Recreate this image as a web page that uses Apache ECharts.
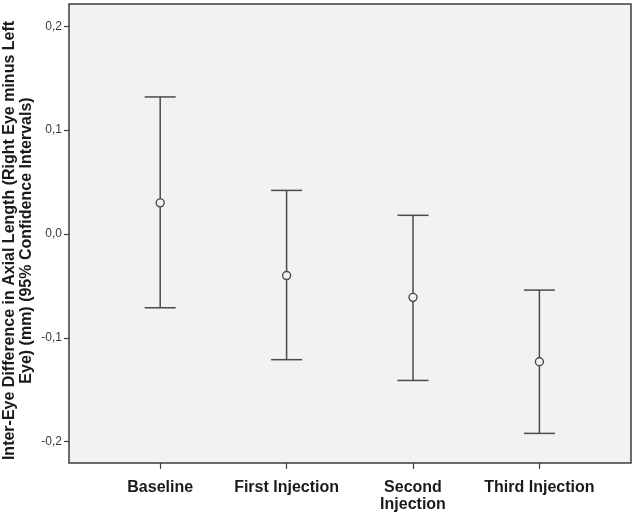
<!DOCTYPE html>
<html>
<head>
<meta charset="utf-8">
<script src="https://cdn.jsdelivr.net/npm/echarts@6/dist/echarts.min.js"></script>
<style>
  html, body { margin: 0; padding: 0; background: #fff; }
  #chart { width: 634px; height: 514px; }
</style>
</head>
<body>
<div id="chart"></div>
<script>
  // 分组
  var categories = ['Baseline', 'First Injection', 'Second\nInjection', 'Third Injection'];
  // 均值及95%置信区间
  var means = [0.030, -0.040, -0.061, -0.123];
  var lower = [-0.071, -0.121, -0.141, -0.192];
  var upper = [0.132, 0.042, 0.018, -0.054];
  var yTicks = [-0.2, -0.1, 0.0, 0.1, 0.2];

  var yMin = -0.2205, yMax = 0.2215;
  var font = '"Liberation Sans", Arial, sans-serif';
  var barColor = '#4a4a4a';

  var chart = echarts.init(document.getElementById('chart'));

  var option = {
    animation: false,
    backgroundColor: '#fff',
    grid: [
      {
        left: 69, right: 3, top: 4, bottom: 51,
        outerBoundsMode: 'none', containLabel: false,
        show: true, backgroundColor: '#f2f2f2',
        borderColor: '#3c3c3c', borderWidth: 1.5
      },
      {
        left: 97, width: 505.6, top: 4, bottom: 51,
        outerBoundsMode: 'none', containLabel: false
      }
    ],
    xAxis: [
      {
        gridIndex: 0, type: 'value', min: 0, max: 1, show: false
      },
      {
        gridIndex: 1, type: 'category', data: categories,
        axisLine: { show: false, onZero: false },
        axisTick: { show: true, alignWithLabel: true, length: 6, lineStyle: { color: '#3c3c3c', width: 1.2 } },
        axisLabel: {
          margin: 16, color: '#1a1a1a', fontFamily: font,
          fontSize: 16, fontWeight: 'bold', lineHeight: 17, interval: 0
        }
      }
    ],
    yAxis: [
      {
        gridIndex: 0, type: 'value', min: yMin, max: yMax,
        axisLine: { show: false },
        axisTick: { show: true, length: 5, lineStyle: { color: '#3c3c3c', width: 1.2 },
          customValues: yTicks },
        axisLabel: {
          margin: 7, color: '#3a3a3a', fontFamily: font, fontSize: 12,
          customValues: yTicks,
          formatter: function (v) { return v.toFixed(1).replace('.', ','); }
        },
        splitLine: { show: false },
        name: 'Inter-Eye Difference in Axial Length (Right Eye minus Left\nEye) (mm) (95% Confidence Intervals)',
        nameLocation: 'middle',
        nameGap: 34,
        nameMoveOverlap: false,
        nameTextStyle: {
          color: '#1a1a1a', fontFamily: font, fontSize: 16,
          fontWeight: 'bold', lineHeight: 17, align: 'center',
          padding: [0, 14, 0, 0]
        }
      },
      {
        gridIndex: 1, type: 'value', min: yMin, max: yMax, show: false
      }
    ],
    series: [
      {
        type: 'custom',
        xAxisIndex: 1, yAxisIndex: 1,
        data: categories.map(function (c, i) { return [i, lower[i], upper[i]]; }),
        renderItem: function (params, api) {
          var lo = api.coord([api.value(0), api.value(1)]);
          var hi = api.coord([api.value(0), api.value(2)]);
          var w = 15.5;
          var style = { stroke: barColor, lineWidth: 1.5 };
          return {
            type: 'group',
            children: [
              { type: 'line', shape: { x1: hi[0], y1: hi[1], x2: lo[0], y2: lo[1] }, style: style },
              { type: 'line', shape: { x1: hi[0] - w, y1: hi[1], x2: hi[0] + w, y2: hi[1] }, style: style },
              { type: 'line', shape: { x1: lo[0] - w, y1: lo[1], x2: lo[0] + w, y2: lo[1] }, style: style }
            ]
          };
        },
        z: 2
      },
      {
        type: 'scatter',
        xAxisIndex: 1, yAxisIndex: 1,
        data: categories.map(function (c, i) { return [i, means[i]]; }),
        symbol: 'circle', symbolSize: 8,
        itemStyle: { color: '#f2f2f2', borderColor: barColor, borderWidth: 1.4, opacity: 1 },
        z: 3
      }
    ]
  };

  chart.setOption(option);
</script>
</body>
</html>
